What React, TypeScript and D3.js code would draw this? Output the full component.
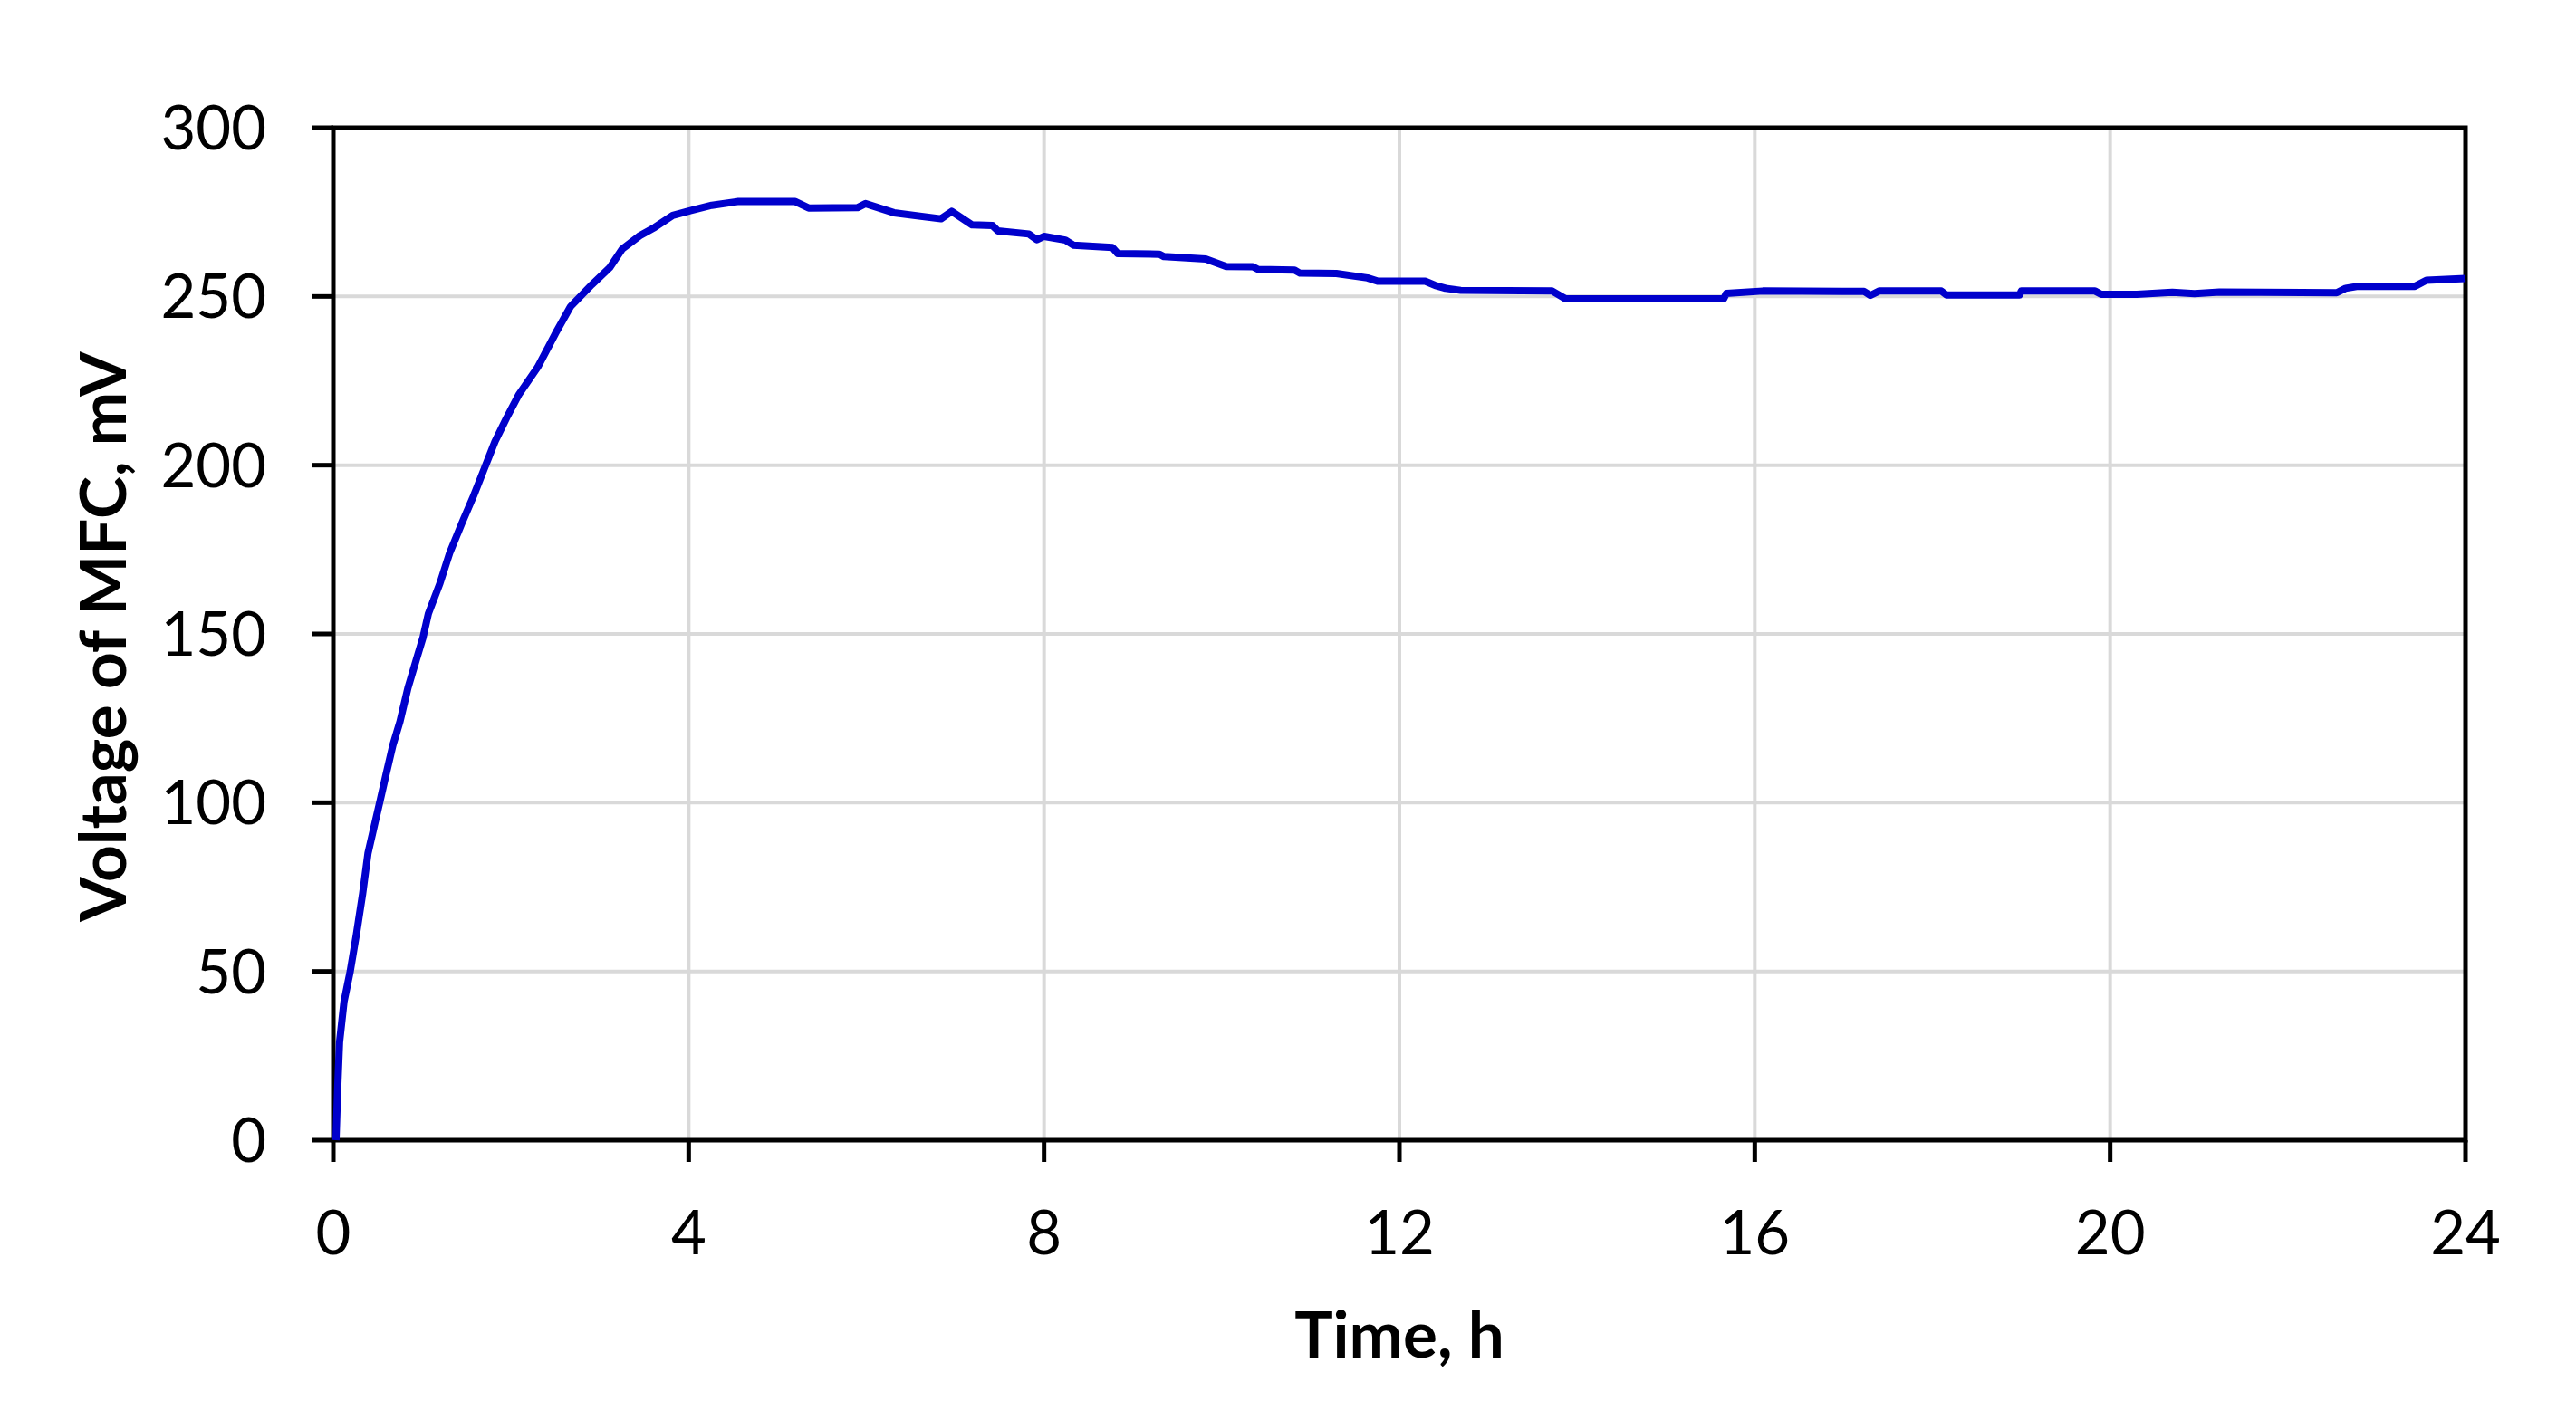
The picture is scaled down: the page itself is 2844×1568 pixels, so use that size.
import React from "react";
import * as d3 from "d3";

const timeH: number[] = [
  0.03, 0.05, 0.07, 0.12, 0.19, 0.26, 0.33, 0.39, 0.46, 0.53, 0.59, 0.67, 0.75, 0.84,
  0.93, 1.01, 1.07, 1.2, 1.31, 1.45, 1.58, 1.7, 1.82, 1.95, 2.09, 2.3, 2.5, 2.67, 2.91, 3.11, 3.25, 3.45, 3.62,
  3.82, 4.0, 4.26, 4.55, 5.2, 5.35, 5.9, 5.99, 6.31, 6.84, 6.96, 7.19, 7.42, 7.48,
  7.83, 7.92, 8.0, 8.24, 8.33, 8.77, 8.83, 9.3, 9.35, 9.82, 10.05, 10.35, 10.41,
  10.82, 10.88, 11.29, 11.64, 11.76, 12.29, 12.4, 12.52, 12.69, 13.72, 13.87, 15.65,
  15.68, 16.09, 17.23, 17.3, 17.4, 18.1, 18.16, 18.98, 19.0, 19.83, 19.9, 20.3, 20.7,
  20.95, 21.23, 22.55, 22.65, 22.79, 23.43, 23.56, 24.0,
];

const voltageMV: number[] = [
  0, 16, 29, 41, 50, 61, 73, 85, 93, 101, 108, 117, 124, 134,
  142, 149, 156, 165, 174, 183, 191, 199, 207, 214, 221, 229, 239, 247, 253.5, 258.5, 264, 268, 270.5,
  274, 275.3, 277, 278.1, 278.1, 276.2, 276.3, 277.5, 274.8, 273, 275.2, 271.2, 271, 269.4,
  268.5, 266.8, 267.8, 266.7, 265.2, 264.5, 262.7, 262.5, 261.8, 261.1, 258.9, 258.8, 258,
  257.8, 256.9, 256.8, 255.5, 254.5, 254.5, 253.3, 252.4, 251.8, 251.6, 249.3, 249.3,
  250.9, 251.6, 251.5, 250.3, 251.6, 251.6, 250.4, 250.4, 251.6, 251.6, 250.6, 250.6, 251.2,
  250.8, 251.3, 251.1, 252.4, 253, 253, 254.8, 255.3,
];

const xTicks: number[] = [0, 4, 8, 12, 16, 20, 24];
const yTicks: number[] = [0, 50, 100, 150, 200, 250, 300];

const xTitle = "Time, h";
const yTitle = "Voltage of MFC, mV";

export default function App() {
  const W = 2844;
  const H = 1568;
  const left = 368;
  const right = 2722;
  const top = 141;
  const bottom = 1259;

  const x = d3.scaleLinear().domain([0, 24]).range([left, right]);
  const y = d3.scaleLinear().domain([0, 300]).range([bottom, top]);

  const pts = timeH.map((t, i) => [t, voltageMV[i]] as [number, number]);
  const line = d3
    .line<[number, number]>()
    .x((d) => x(d[0]))
    .y((d) => y(d[1]));

  const font = "Lato, 'Open Sans', sans-serif";
  const grid = "#d9d9d9";

  return (
    <svg
      width={W}
      height={H}
      style={{ position: "absolute", left: 0, top: 0, background: "#fff" }}
    >
      <rect x={0} y={0} width={W} height={H} fill="#fff" />
      {yTicks
        .filter((v) => v > 0 && v < 300)
        .map((v) => (
          <line key={"gy" + v} x1={left} x2={right} y1={y(v)} y2={y(v)} stroke={grid} strokeWidth={4} />
        ))}
      {xTicks
        .filter((t) => t > 0 && t < 24)
        .map((t) => (
          <line key={"gx" + t} x1={x(t)} x2={x(t)} y1={top} y2={bottom} stroke={grid} strokeWidth={4} />
        ))}
      <rect x={left} y={top} width={right - left} height={bottom - top} fill="none" stroke="#000" strokeWidth={5} />
      {yTicks.map((v) => (
        <line key={"ty" + v} x1={left - 24} x2={left} y1={y(v)} y2={y(v)} stroke="#000" strokeWidth={5} />
      ))}
      {xTicks.map((t) => (
        <line key={"tx" + t} x1={x(t)} x2={x(t)} y1={bottom} y2={bottom + 24} stroke="#000" strokeWidth={5} />
      ))}
      <path d={line(pts) || ""} fill="none" stroke="#0000cc" strokeWidth={8} strokeLinejoin="round" strokeLinecap="butt" />
      {yTicks.map((v) => (
        <text key={"ly" + v} x={294} y={y(v) + 24} textAnchor="end" fontFamily={font} fontSize={67} fill="#000">
          {v}
        </text>
      ))}
      {xTicks.map((t) => (
        <text key={"lx" + t} x={x(t)} y={1385} textAnchor="middle" fontFamily={font} fontSize={67} fill="#000">
          {t}
        </text>
      ))}
      <text x={(left + right) / 2} y={1499} textAnchor="middle" fontFamily={font} fontWeight="bold" fontSize={71} fill="#000">
        {xTitle}
      </text>
      <text
        transform={`translate(139, ${(top + bottom) / 2 + 3}) rotate(-90)`}
        textAnchor="middle"
        fontFamily={font}
        fontWeight="bold"
        fontSize={71}
        fill="#000"
      >
        {yTitle}
      </text>
    </svg>
  );
}
